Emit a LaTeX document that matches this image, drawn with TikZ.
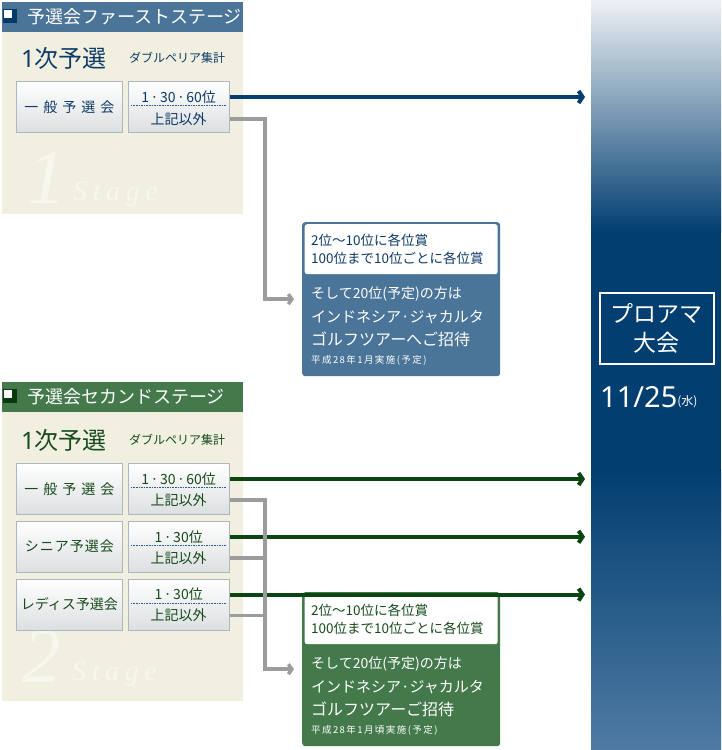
\documentclass[tikz,border=0pt]{standalone}
\usepackage{fontspec}
\setmainfont{Noto Sans CJK JP}
\newfontfamily\stagefont{Liberation Serif}
\newfontfamily\numfont{Noto Sans}
\usetikzlibrary{arrows.meta, positioning, calc}
\definecolor{headblue}{HTML}{4B7499}
\definecolor{headgreen}{HTML}{447A4B}
\definecolor{deepnavy}{HTML}{023E70}
\definecolor{deepgreen}{HTML}{0B4512}
\definecolor{iconnavy}{HTML}{003A6B}
\definecolor{icongreen}{HTML}{0A3A0C}
\definecolor{panelbg}{HTML}{F0EFE0}
\definecolor{markbg}{HTML}{F8F7EF}
\definecolor{linegray}{HTML}{9C9C9C}
\definecolor{boxedge}{HTML}{AEB6BE}
\definecolor{boxlow}{HTML}{DCDFE0}
\definecolor{textnavy}{HTML}{0E3A66}
\definecolor{textgreen}{HTML}{174A1C}
\definecolor{dashblue}{HTML}{2A5A90}
\definecolor{colwhite}{HTML}{EEF1F4}
\definecolor{colbottom}{HTML}{4F7BA3}
\newcommand{\rdot}{\kern1.5pt·\kern1.5pt}

\begin{document}
\begin{tikzpicture}[x=1pt, y=-1pt,
    selbox/.style={draw=boxedge, line width=0.8pt, top color=white, bottom color=boxlow,
      minimum width=106pt, minimum height=51pt, inner sep=0pt, font=\fontsize{14}{14}\selectfont},
    rankbox/.style={selbox, minimum width=101pt},
    ranktxt/.style={inner sep=0pt, font=\fontsize{14}{14}\selectfont},
    rankdash/.style={dashblue, line width=0.7pt, dash pattern=on 1.6pt off 1pt},
    headtxt/.style={anchor=west, text=white, inner sep=0pt, font=\fontsize{18}{18}\selectfont},
    roundtxt/.style={anchor=west, inner sep=0pt, font=\fontsize{24}{24}\selectfont},
    sumtxt/.style={anchor=west, inner sep=0pt, font=\fontsize{12}{12}\selectfont},
    stagemark/.style={anchor=base west, inner sep=0pt, text=markbg},
    prizebox/.style={rounded corners=3pt, minimum width=198pt, minimum height=154pt, inner sep=0pt, anchor=north west},
    prizetop/.style={fill=white, rounded corners=2.5pt, minimum width=193pt, minimum height=50pt, inner sep=0pt, anchor=north},
    prizetxt/.style={anchor=west, inner sep=0pt},
    smalltxt/.style={prizetxt, text=white, font=\fontsize{9.5}{9.5}\selectfont\addfontfeature{LetterSpace=15}},
    blueline/.style={deepnavy, line width=4pt, shorten >=6pt, -{Straight Barb[length=4pt, width=12pt]}},
    greenline/.style={deepgreen, line width=4pt, shorten >=6pt, -{Straight Barb[length=4pt, width=12pt]}},
    grayline/.style={linegray, line width=3.5pt},
    grayarrow/.style={grayline, shorten >=8pt, -{Straight Barb[length=3.5pt, width=10pt]}}]
  \useasboundingbox (0,0) rectangle (721,750);

  % right column: プロアマ大会
  \shade[top color=colwhite, bottom color=deepnavy] (591,0) rectangle (721,232);
  \fill[deepnavy] (591,231) rectangle (721,470);
  \shade[top color=deepnavy, bottom color=colbottom] (591,469) rectangle (721,750);
  \node[inner sep=0pt, minimum width=130pt, minimum height=750pt, anchor=north west] (final) at (591,0) {};
  \node[draw=white, line width=1.5pt, minimum width=114pt, minimum height=71pt, inner sep=0pt, anchor=north west,
    text=white, align=center, font=\fontsize{23}{29}\selectfont] (proama) at (599,292) {プロアマ\\大会};
  \node[anchor=west, inner sep=0pt, text=white] (date) at (600,397)
    {{\numfont\fontsize{29}{29}\selectfont 11/25}\raisebox{2pt}{\fontsize{12}{12}\selectfont (水)}};

  % ===== 予選会ファーストステージ =====
  \fill[panelbg] (2,32) rectangle (243,214);
  \fill[headblue] (2,2) rectangle (243,32);
  \fill[iconnavy] (3,9) rectangle (17,23);
  \fill[white] (4,10) rectangle (12,18);
  \node[headtxt] (head1) at (27,17) {予選会ファーストステージ};
  \node[stagemark, font=\stagefont\itshape\fontsize{78}{78}\selectfont] (big1) at (27,203) {1};
  \node[stagemark, font=\stagefont\itshape\fontsize{28}{28}\selectfont\addfontfeature{LetterSpace=20}] (stage1) at (73,200) {Stage};
  \node[roundtxt, text=textnavy] (round1) at (21,58) {{\numfont 1}次予選};
  \node[sumtxt, text=textnavy] (sum1) at (129,58) {ダブルペリア集計};

  \node[selbox, text=textnavy, anchor=north west] (gen1) at (16,81) {一\kern5pt 般\kern5pt 予\kern5pt 選\kern5pt 会};
  \node[rankbox, right=5pt of gen1] (r1) {};
  \node[ranktxt, text=textnavy] (r1a) at ($(r1.north)+(0,16)$) {1\rdot 30\rdot 60位};
  \node[ranktxt, text=textnavy] (r1b) at ($(r1.north)+(0,38)$) {上記以外};
  \draw[rankdash] ($(r1.west)+(3,-1.5)$) -- ($(r1.east)+(-3,-1.5)$);

  % 賞 (first)
  \node[prizebox, fill=headblue] (p1) at (302,222) {};
  \node[prizetop] (p1w) at ($(p1.north)+(0,2)$) {};
  \node[prizetxt, text=textnavy, font=\fontsize{13.5}{13.5}\selectfont] (p1l1) at (311,240) {2位〜10位に各位賞};
  \node[prizetxt, text=textnavy, font=\fontsize{13.5}{13.5}\selectfont] (p1l2) at (311,258) {100位まで10位ごとに各位賞};
  \node[prizetxt, text=white, font=\fontsize{14}{14}\selectfont] (p1l3) at (311,294) {そして20位(予定)の方は};
  \node[prizetxt, text=white, font=\fontsize{15}{15}\selectfont] (p1l4) at (311,317) {インドネシア·ジャカルタ};
  \node[prizetxt, text=white, font=\fontsize{16}{16}\selectfont] (p1l5) at (311,339) {ゴルフツアーへご招待};
  \node[smalltxt] (p1l6) at (311,360) {平成28年1月実施(予定)};

  \coordinate (trunk) at (265,0);
  \draw[blueline] (r1a -| r1.east) -- (r1a -| final.west);
  \draw[grayarrow] (r1b -| r1.east) -| (p1.west -| trunk) -- (p1.west);

  % ===== 予選会セカンドステージ =====
  \fill[panelbg] (2,412) rectangle (243,701);
  \fill[headgreen] (2,382) rectangle (243,412);
  \fill[icongreen] (3,389) rectangle (17,403);
  \fill[white] (4,390) rectangle (12,398);
  \node[headtxt] (head2) at (27,397) {予選会セカンドステージ};
  \node[stagemark, font=\stagefont\itshape\fontsize{78}{78}\selectfont] (big2) at (22,682) {2};
  \node[stagemark, font=\stagefont\itshape\fontsize{28}{28}\selectfont\addfontfeature{LetterSpace=20}] (stage2) at (72,680) {Stage};
  \node[roundtxt, text=textgreen] (round2) at (21,440) {{\numfont 1}次予選};
  \node[sumtxt, text=textgreen] (sum2) at (129,440) {ダブルペリア集計};

  \node[selbox, text=textgreen, anchor=north west] (gen2) at (16,463) {一\kern5pt 般\kern5pt 予\kern5pt 選\kern5pt 会};
  \node[rankbox, right=5pt of gen2] (r21) {};
  \node[ranktxt, text=textgreen] (r21a) at ($(r21.north)+(0,16)$) {1\rdot 30\rdot 60位};
  \node[ranktxt, text=textgreen] (r21b) at ($(r21.north)+(0,37)$) {上記以外};
  \draw[rankdash] ($(r21.west)+(3,-1.5)$) -- ($(r21.east)+(-3,-1.5)$);

  \node[selbox, text=textgreen, below=6pt of gen2] (sen2) {シ\kern1pt ニ\kern1pt ア\kern1pt 予\kern1pt 選\kern1pt 会};
  \node[rankbox, right=5pt of sen2] (r22) {};
  \node[ranktxt, text=textgreen] (r22a) at ($(r22.north)+(0,16)$) {1\rdot 30位};
  \node[ranktxt, text=textgreen] (r22b) at ($(r22.north)+(0,37)$) {上記以外};
  \draw[rankdash] ($(r22.west)+(3,-1.5)$) -- ($(r22.east)+(-3,-1.5)$);

  \node[selbox, text=textgreen, below=6pt of sen2] (lad2) {レディス予選会};
  \node[rankbox, right=5pt of lad2] (r23) {};
  \node[ranktxt, text=textgreen] (r23a) at ($(r23.north)+(0,16)$) {1\rdot 30位};
  \node[ranktxt, text=textgreen] (r23b) at ($(r23.north)+(0,37)$) {上記以外};
  \draw[rankdash] ($(r23.west)+(3,-1.5)$) -- ($(r23.east)+(-3,-1.5)$);

  % 賞 (second)
  \node[prizebox, fill=headgreen] (p2) at (302,592) {};
  \node[prizetop] (p2w) at ($(p2.north)+(0,2)$) {};
  \node[prizetxt, text=textgreen, font=\fontsize{13.5}{13.5}\selectfont] (p2l1) at (311,610) {2位〜10位に各位賞};
  \node[prizetxt, text=textgreen, font=\fontsize{13.5}{13.5}\selectfont] (p2l2) at (311,628) {100位まで10位ごとに各位賞};
  \node[prizetxt, text=white, font=\fontsize{14}{14}\selectfont] (p2l3) at (311,664) {そして20位(予定)の方は};
  \node[prizetxt, text=white, font=\fontsize{15}{15}\selectfont] (p2l4) at (311,687) {インドネシア·ジャカルタ};
  \node[prizetxt, text=white, font=\fontsize{16}{16}\selectfont] (p2l5) at (311,709) {ゴルフツアーご招待};
  \node[smalltxt] (p2l6) at (311,730) {平成28年1月頃実施(予定)};

  \draw[greenline] (r21a -| r21.east) -- (r21a -| final.west);
  \draw[greenline] (r22a -| r22.east) -- (r22a -| final.west);
  \draw[greenline] (r23a -| r23.east) -- (r23a -| final.west);
  \draw[grayarrow] (r21b -| r21.east) -| (p2.west -| trunk) -- (p2.west);
  \draw[grayline] (r22b -| r22.east) -- (r22b -| trunk);
  \draw[grayline] (r23b -| r23.east) -- (r23b -| trunk);
\end{tikzpicture}
\end{document}
